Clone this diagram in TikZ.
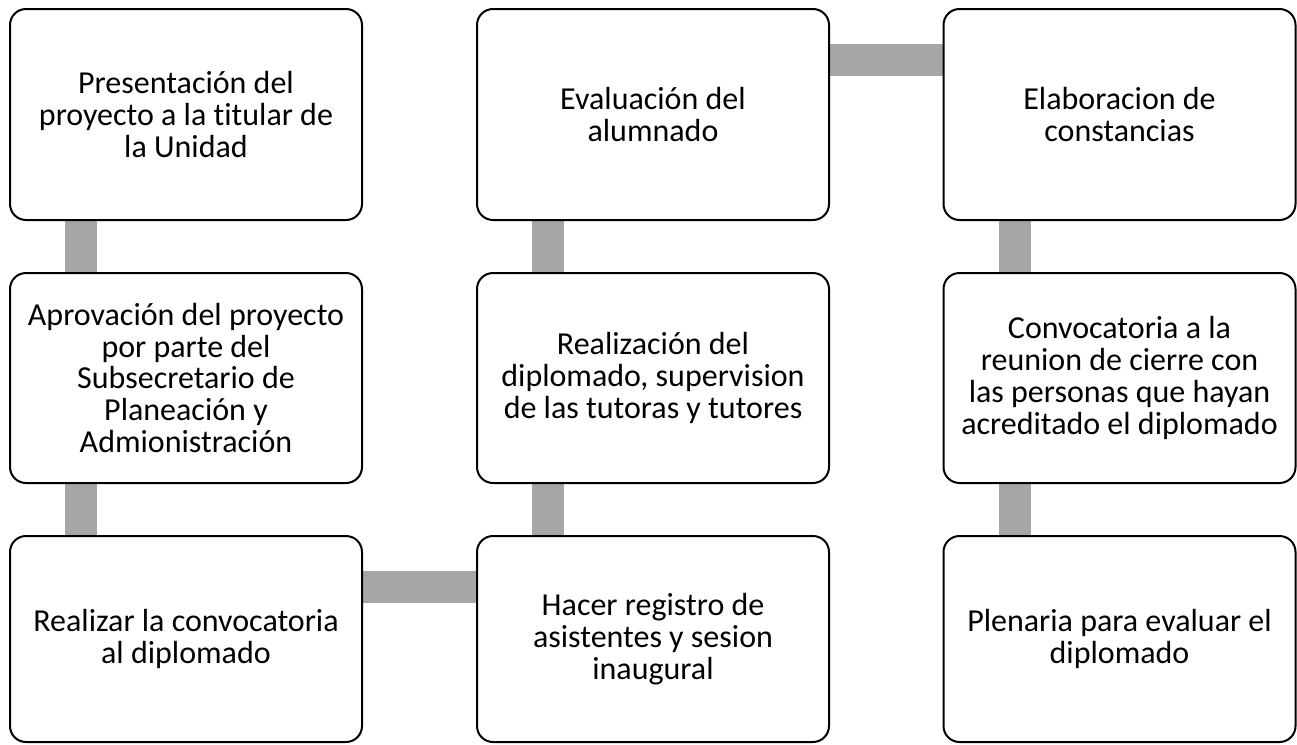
\documentclass[tikz,border=0pt]{standalone}
\usepackage{fontspec}
\setmainfont{Carlito}[Ligatures={NoCommon}]
\usetikzlibrary{backgrounds}
\definecolor{bargray}{RGB}{166,166,166}
\tikzset{
  stepbox/.style={draw=black, line width=2pt, rounded corners=16pt, fill=white,
    minimum width=352pt, align=center, inner sep=0pt,
    font=\fontsize{32}{31.7}\selectfont},
  bar/.style={draw=bargray, line width=32pt, line cap=butt},
}
\begin{document}
\begin{tikzpicture}[x=1pt,y=-1pt]
\useasboundingbox (0,0) rectangle (1297,744);
% column 1
\node[stepbox, minimum height=211pt] (a) at (186,114.5) {Presentación del\\proyecto a la titular de\\la Unidad};
\node[stepbox, minimum height=210pt] (b) at (186,378) {Aprovación del proyecto\\por parte del\\Subsecretario de\\Planeación y\\Admionistración};
\node[stepbox, minimum height=206pt] (c) at (186,639) {Realizar la convocatoria\\al diplomado};
% column 2
\node[stepbox, minimum height=206pt] (d) at (653,639) {Hacer registro de\\asistentes y sesion\\inaugural};
\node[stepbox, minimum height=210pt] (e) at (653,378) {Realización del\\diplomado, supervision\\de las tutoras y tutores};
\node[stepbox, minimum height=211pt] (f) at (653,114.5) {Evaluación del\\alumnado};
% column 3
\node[stepbox, minimum height=211pt] (g) at (1119.5,114.5) {Elaboracion de\\constancias};
\node[stepbox, minimum height=210pt] (h) at (1119.5,378) {Convocatoria a la\\reunion de cierre con\\las personas que hayan\\acreditado el diplomado};
\node[stepbox, minimum height=206pt] (i) at (1119.5,639) {Plenaria para evaluar el\\diplomado};
% connectors
\begin{scope}[on background layer]
\draw[bar] ([xshift=72pt]a.south west) -- ([xshift=72pt]b.north west);
\draw[bar] ([xshift=72pt]b.south west) -- ([xshift=72pt]c.north west);
\draw[bar] ([yshift=-51.5pt]c.north east) -- ([yshift=-51.5pt]d.north west);
\draw[bar] ([xshift=72pt]d.north west) -- ([xshift=72pt]e.south west);
\draw[bar] ([xshift=72pt]e.north west) -- ([xshift=72pt]f.south west);
\draw[bar] ([yshift=-51.5pt]f.north east) -- ([yshift=-51.5pt]g.north west);
\draw[bar] ([xshift=72pt]g.south west) -- ([xshift=72pt]h.north west);
\draw[bar] ([xshift=72pt]h.south west) -- ([xshift=72pt]i.north west);
\end{scope}
\end{tikzpicture}
\end{document}
